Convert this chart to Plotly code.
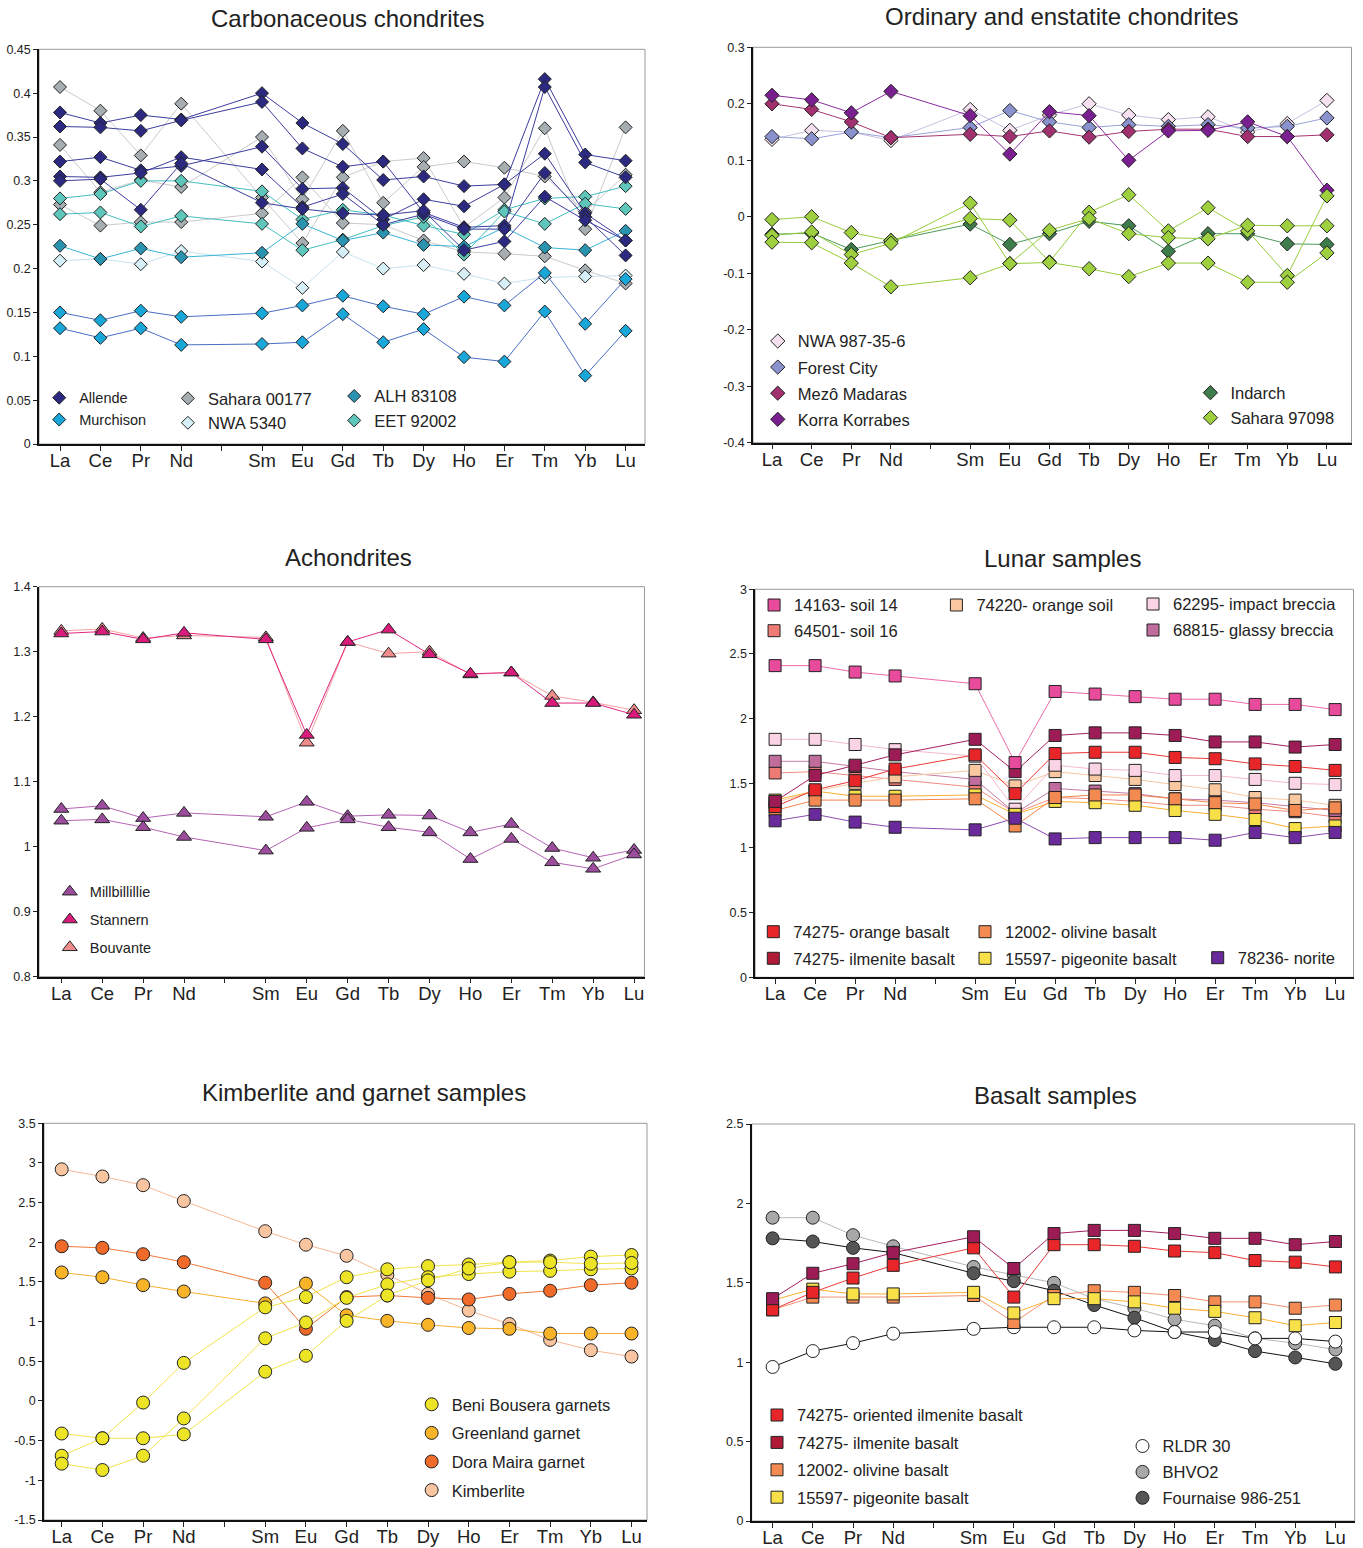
import plotly.graph_objects as go

W, H = 1363, 1548
FONT = "Liberation Sans, Arial, sans-serif"

# ---------------- shared axis data ----------------
TICK_LABELS = ["La", "Ce", "Pr", "Nd", "", "Sm", "Eu", "Gd", "Tb", "Dy", "Ho", "Er", "Tm", "Yb", "Lu"]
ELEMENTS = ["La", "Ce", "Pr", "Nd", "Sm", "Eu", "Gd", "Tb", "Dy", "Ho", "Er", "Tm", "Yb", "Lu"]

# ---------------- Carbonaceous chondrites ----------------
ALLENDE_1 = [0.378, 0.366, 0.375, 0.370, 0.400, 0.366, 0.342, 0.301, 0.305, 0.294, 0.296, 0.416, 0.330, 0.323]
ALLENDE_2 = [0.362, 0.361, 0.357, 0.369, 0.390, 0.337, 0.316, 0.322, 0.264, 0.247, 0.249, 0.407, 0.321, 0.304]
ALLENDE_3 = [0.322, 0.327, 0.312, 0.317, 0.339, 0.291, 0.292, 0.256, 0.279, 0.271, 0.296, 0.331, 0.263, 0.232]
ALLENDE_4 = [0.305, 0.304, 0.309, 0.327, 0.313, 0.270, 0.285, 0.250, 0.262, 0.245, 0.245, 0.309, 0.259, 0.215]
ALLENDE_5 = [0.300, 0.302, 0.267, 0.320, 0.275, 0.268, 0.263, 0.261, 0.266, 0.221, 0.231, 0.282, 0.255, 0.232]
MURCHISON_1 = [0.150, 0.141, 0.152, 0.145, 0.149, 0.158, 0.169, 0.157, 0.148, 0.168, 0.158, 0.195, 0.137, 0.188]
MURCHISON_2 = [0.132, 0.121, 0.132, 0.113, 0.114, 0.116, 0.148, 0.116, 0.131, 0.099, 0.094, 0.151, 0.078, 0.129]
SAHARA00177_1 = [0.407, 0.380, 0.329, 0.388, 0.281, 0.229, 0.304, 0.322, 0.326, 0.247, 0.281, 0.360, 0.245, 0.361]
SAHARA00177_2 = [0.341, 0.287, 0.301, 0.293, 0.350, 0.279, 0.357, 0.275, 0.316, 0.322, 0.315, 0.305, 0.265, 0.307]
SAHARA00177_3 = [0.273, 0.249, 0.253, 0.253, 0.263, 0.304, 0.252, 0.250, 0.232, 0.219, 0.217, 0.214, 0.198, 0.183]
NWA5340 = [0.209, 0.211, 0.205, 0.220, 0.208, 0.178, 0.219, 0.200, 0.204, 0.194, 0.183, 0.190, 0.191, 0.192]
ALH83108 = [0.226, 0.211, 0.223, 0.213, 0.218, 0.251, 0.232, 0.241, 0.227, 0.225, 0.247, 0.224, 0.221, 0.243]
EET92002_1 = [0.280, 0.285, 0.300, 0.300, 0.288, 0.256, 0.267, 0.261, 0.249, 0.239, 0.267, 0.280, 0.282, 0.294]
EET92002_2 = [0.262, 0.264, 0.248, 0.260, 0.251, 0.221, 0.233, 0.249, 0.259, 0.216, 0.265, 0.251, 0.274, 0.268]

# ---------------- Ordinary and enstatite chondrites ----------------
NWA987 = [0.137, 0.153, 0.150, 0.135, 0.190, 0.153, 0.180, 0.200, 0.180, 0.172, 0.177, 0.150, 0.165, 0.206]
FOREST_CITY = [0.142, 0.138, 0.150, 0.140, 0.158, 0.188, 0.168, 0.158, 0.163, 0.160, 0.163, 0.157, 0.160, 0.175]
MEZO_MADARAS = [0.200, 0.190, 0.168, 0.140, 0.146, 0.142, 0.152, 0.141, 0.151, 0.155, 0.155, 0.142, 0.142, 0.145]
KORRA_KORRABES = [0.215, 0.207, 0.184, 0.222, 0.179, 0.111, 0.186, 0.179, 0.100, 0.152, 0.153, 0.168, 0.142, 0.047]
INDARCH = [-0.031, -0.029, -0.058, -0.042, -0.013, -0.049, -0.030, -0.008, -0.016, -0.061, -0.030, -0.030, -0.048, -0.049]
SAHARA97098_1 = [-0.005, 0.000, -0.028, -0.042, -0.003, -0.006, -0.080, 0.008, 0.039, -0.025, 0.016, -0.025, -0.104, 0.037]
SAHARA97098_2 = [-0.033, -0.027, -0.067, -0.047, 0.024, -0.083, -0.024, -0.003, -0.030, -0.037, -0.039, -0.015, -0.016, -0.016]
SAHARA97098_3 = [-0.045, -0.046, -0.082, -0.124, -0.108, -0.083, -0.081, -0.092, -0.106, -0.082, -0.082, -0.116, -0.116, -0.064]

# ---------------- Achondrites ----------------
MILLBILLILLIE_1 = [1.058, 1.063, 1.044, 1.052, 1.046, 1.069, 1.047, 1.049, 1.048, 1.022, 1.035, 0.998, 0.983, 0.995]
MILLBILLILLIE_2 = [1.040, 1.042, 1.030, 1.015, 0.994, 1.029, 1.042, 1.030, 1.022, 0.981, 1.012, 0.976, 0.966, 0.988]
STANNERN = [1.328, 1.331, 1.319, 1.329, 1.319, 1.172, 1.315, 1.334, 1.296, 1.266, 1.268, 1.221, 1.221, 1.203]
BOUVANTE = [1.332, 1.335, 1.321, 1.325, 1.322, 1.160, 1.315, 1.297, 1.300, 1.265, 1.268, 1.232, 1.222, 1.210]

# ---------------- Lunar samples ----------------
SOIL_14 = [2.41, 2.41, 2.36, 2.33, 2.27, 1.66, 2.21, 2.19, 2.17, 2.15, 2.15, 2.11, 2.11, 2.07]
SOIL_16 = [1.58, 1.59, 1.56, 1.53, 1.47, 1.27, 1.39, 1.38, 1.36, 1.33, 1.33, 1.30, 1.28, 1.24]
ORANGE_SOIL = [1.35, 1.44, 1.50, 1.55, 1.60, 1.48, 1.59, 1.56, 1.53, 1.49, 1.45, 1.39, 1.37, 1.33]
IMPACT_BRECCIA = [1.84, 1.84, 1.80, 1.76, 1.71, 1.30, 1.64, 1.61, 1.60, 1.56, 1.56, 1.53, 1.50, 1.49]
GLASSY_BRECCIA = [1.67, 1.67, 1.63, 1.59, 1.53, 1.27, 1.46, 1.44, 1.42, 1.38, 1.37, 1.35, 1.32, 1.29]
ORANGE_BASALT = [1.32, 1.45, 1.52, 1.61, 1.72, 1.42, 1.73, 1.74, 1.74, 1.70, 1.69, 1.65, 1.63, 1.60]
ILMENITE_BASALT = [1.36, 1.56, 1.64, 1.72, 1.84, 1.59, 1.87, 1.89, 1.89, 1.87, 1.82, 1.82, 1.78, 1.80]
OLIVINE_BASALT = [1.29, 1.37, 1.37, 1.37, 1.38, 1.17, 1.39, 1.41, 1.41, 1.38, 1.35, 1.34, 1.29, 1.31]
PIGEONITE_BASALT = [1.37, 1.44, 1.40, 1.40, 1.41, 1.26, 1.36, 1.35, 1.33, 1.29, 1.26, 1.22, 1.15, 1.17]
NORITE = [1.21, 1.26, 1.20, 1.16, 1.14, 1.23, 1.07, 1.08, 1.08, 1.08, 1.06, 1.12, 1.08, 1.12]

# ---------------- Kimberlite and garnet samples ----------------
BENI_BOUSERA_1 = [-0.69, -0.47, -0.02, 0.48, 1.18, 1.31, 1.56, 1.66, 1.70, 1.72, 1.75, 1.77, 1.82, 1.84]
BENI_BOUSERA_2 = [-0.79, -0.87, -0.69, -0.22, 0.79, 0.99, 1.30, 1.47, 1.56, 1.60, 1.63, 1.64, 1.66, 1.67]
BENI_BOUSERA_3 = [-0.41, -0.47, -0.47, -0.42, 0.37, 0.57, 1.01, 1.33, 1.52, 1.67, 1.75, 1.75, 1.73, 1.74]
GREENLAND = [1.62, 1.56, 1.46, 1.38, 1.23, 1.48, 1.08, 1.01, 0.96, 0.92, 0.91, 0.85, 0.85, 0.85]
DORA_MAIRA = [1.95, 1.93, 1.85, 1.75, 1.49, 0.91, 1.31, 1.33, 1.30, 1.28, 1.35, 1.39, 1.46, 1.49]
KIMBERLITE = [2.92, 2.83, 2.72, 2.52, 2.14, 1.97, 1.83, 1.59, 1.35, 1.14, 0.97, 0.77, 0.64, 0.56]

# ---------------- Basalt samples ----------------
ORIENTED_ILMENITE_B = [1.33, 1.44, 1.53, 1.61, 1.72, 1.41, 1.74, 1.74, 1.73, 1.70, 1.69, 1.64, 1.63, 1.60]
ILMENITE_B = [1.40, 1.56, 1.62, 1.69, 1.79, 1.59, 1.81, 1.83, 1.83, 1.81, 1.78, 1.78, 1.74, 1.76]
OLIVINE_B = [1.33, 1.41, 1.41, 1.41, 1.42, 1.25, 1.42, 1.45, 1.44, 1.42, 1.38, 1.38, 1.34, 1.36]
PIGEONITE_B = [1.39, 1.46, 1.43, 1.43, 1.44, 1.31, 1.40, 1.40, 1.38, 1.34, 1.32, 1.28, 1.23, 1.25]
RLDR30 = [0.97, 1.07, 1.12, 1.18, 1.21, 1.22, 1.22, 1.22, 1.20, 1.19, 1.19, 1.15, 1.15, 1.13]
BHVO2 = [1.91, 1.91, 1.80, 1.73, 1.60, 1.55, 1.50, 1.40, 1.34, 1.27, 1.23, 1.15, 1.12, 1.08]
FOURNAISE = [1.78, 1.76, 1.72, 1.69, 1.56, 1.51, 1.45, 1.36, 1.28, 1.19, 1.14, 1.07, 1.03, 0.99]

# ---------------- y tick labels ----------------
Y1_TICKS = [0, 0.05, 0.1, 0.15, 0.2, 0.25, 0.3, 0.35, 0.4, 0.45]
Y1_TEXT = ["0", "0.05", "0.1", "0.15", "0.2", "0.25", "0.3", "0.35", "0.4", "0.45"]
Y2_TICKS = [-0.4, -0.3, -0.2, -0.1, 0, 0.1, 0.2, 0.3]
Y2_TEXT = ["-0.4", "-0.3", "-0.2", "-0.1", "0", "0.1", "0.2", "0.3"]
Y3_TICKS = [0.8, 0.9, 1.0, 1.1, 1.2, 1.3, 1.4]
Y3_TEXT = ["0.8", "0.9", "1", "1.1", "1.2", "1.3", "1.4"]
Y4_TICKS = [0, 0.5, 1, 1.5, 2, 2.5, 3]
Y4_TEXT = ["0", "0.5", "1", "1.5", "2", "2.5", "3"]
Y5_TICKS = [-1.5, -1, -0.5, 0, 0.5, 1, 1.5, 2, 2.5, 3, 3.5]
Y5_TEXT = ["-1.5", "-1", "-0.5", "0", "0.5", "1", "1.5", "2", "2.5", "3", "3.5"]
Y6_TICKS = [0, 0.5, 1, 1.5, 2, 2.5]
Y6_TEXT = ["0", "0.5", "1", "1.5", "2", "2.5"]

X_POS = [TICK_LABELS.index(e) for e in ELEMENTS]

fig = go.Figure()


def add_series(values, panel, mcolor, lcolor, symbol, size):
    ax = "" if panel == 1 else str(panel)
    fig.add_trace(go.Scatter(
        x=X_POS, y=values, mode="lines+markers", xaxis="x" + ax, yaxis="y" + ax,
        line=dict(color=lcolor, width=1),
        marker=dict(color=mcolor, symbol=symbol, size=size, line=dict(color="#222222", width=1)),
        showlegend=False, hoverinfo="skip"))


def add_entry(name, panel, legend, mcolor, symbol, size):
    ax = "" if panel == 1 else str(panel)
    fig.add_trace(go.Scatter(
        x=[None], y=[None], mode="markers", xaxis="x" + ax, yaxis="y" + ax, name=name,
        legend=legend, legendgroup=name,
        marker=dict(color=mcolor, symbol=symbol, size=size, line=dict(color="#222222", width=1)),
        showlegend=True))


# Panel 1
C_ALL, L_ALL = "#2b2a80", "#3c3c9e"
C_MUR, L_MUR = "#19a6d8", "#4a6ec2"
C_SAH, L_SAH = "#a7aeb2", "#cacaca"
C_NWA, L_NWA = "#d6eff7", "#c6e4ef"
C_ALH, L_ALH = "#2a93b0", "#38b4d6"
C_EET, L_EET = "#5ec6ba", "#44bebe"
for v in [SAHARA00177_1, SAHARA00177_2, SAHARA00177_3]:
    add_series(v, 1, C_SAH, L_SAH, "diamond", 10)
add_series(NWA5340, 1, C_NWA, L_NWA, "diamond", 10)
for v in [EET92002_1, EET92002_2]:
    add_series(v, 1, C_EET, L_EET, "diamond", 10)
add_series(ALH83108, 1, C_ALH, L_ALH, "diamond", 10)
for v in [MURCHISON_1, MURCHISON_2]:
    add_series(v, 1, C_MUR, L_MUR, "diamond", 10)
for v in [ALLENDE_1, ALLENDE_2, ALLENDE_3, ALLENDE_4, ALLENDE_5]:
    add_series(v, 1, C_ALL, L_ALL, "diamond", 10)
add_entry("Allende", 1, "legend", C_ALL, "diamond", 10)
add_entry("Murchison", 1, "legend", C_MUR, "diamond", 10)
add_entry("Sahara 00177", 1, "legend2", C_SAH, "diamond", 10)
add_entry("NWA 5340", 1, "legend2", C_NWA, "diamond", 10)
add_entry("ALH 83108", 1, "legend3", C_ALH, "diamond", 10)
add_entry("EET 92002", 1, "legend3", C_EET, "diamond", 10)

# Panel 2
C_N98, L_N98 = "#f4e0ee", "#c8bfe0"
C_FC, L_FC = "#8a92ce", "#9aa2da"
C_MM, L_MM = "#a0306e", "#a63472"
C_KK, L_KK = "#7a1f8f", "#8a2a9e"
C_IND, L_IND = "#3e7c4c", "#4c9a5a"
C_S97, L_S97 = "#9dcf3f", "#96cc3a"
add_series(NWA987, 2, C_N98, L_N98, "diamond", 11)
add_series(FOREST_CITY, 2, C_FC, L_FC, "diamond", 11)
add_series(MEZO_MADARAS, 2, C_MM, L_MM, "diamond", 11)
add_series(KORRA_KORRABES, 2, C_KK, L_KK, "diamond", 11)
add_series(INDARCH, 2, C_IND, L_IND, "diamond", 11)
for v in [SAHARA97098_1, SAHARA97098_2, SAHARA97098_3]:
    add_series(v, 2, C_S97, L_S97, "diamond", 11)
add_entry("NWA 987-35-6", 2, "legend4", C_N98, "diamond", 11)
add_entry("Forest City", 2, "legend4", C_FC, "diamond", 11)
add_entry("Mezô Madaras", 2, "legend4", C_MM, "diamond", 11)
add_entry("Korra Korrabes", 2, "legend4", C_KK, "diamond", 11)
add_entry("Indarch", 2, "legend5", C_IND, "diamond", 11)
add_entry("Sahara 97098", 2, "legend5", C_S97, "diamond", 11)

# Panel 3
C_MIL, L_MIL = "#9c4c9c", "#b464b4"
C_STA, L_STA = "#d91c7c", "#e0287f"
C_BOU, L_BOU = "#f08c8c", "#f4a0a0"
for v in [MILLBILLILLIE_1, MILLBILLILLIE_2]:
    add_series(v, 3, C_MIL, L_MIL, "triangle-up", 13)
add_series(BOUVANTE, 3, C_BOU, L_BOU, "triangle-up", 13)
add_series(STANNERN, 3, C_STA, L_STA, "triangle-up", 13)
add_entry("Millbillillie", 3, "legend6", C_MIL, "triangle-up", 13)
add_entry("Stannern", 3, "legend6", C_STA, "triangle-up", 13)
add_entry("Bouvante", 3, "legend6", C_BOU, "triangle-up", 13)

# Panel 4
C_S14, L_S14 = "#e84a9c", "#ec6aa8"
C_S16, L_S16 = "#f07a74", "#f08a84"
C_OS, L_OS = "#f9c8a0", "#f8c8a0"
C_IB, L_IB = "#fad4e4", "#f4b8cc"
C_GB, L_GB = "#c06c9c", "#c47aa4"
C_OB, L_OB = "#e8262a", "#ec3a3a"
C_IL, L_IL = "#9e1c56", "#a42060"
C_OL, L_OL = "#f28a52", "#f4844a"
C_PG, L_PG = "#f8e048", "#f8b030"
C_NO, L_NO = "#6a2a9c", "#8a4ab0"
add_series(SOIL_16, 4, C_S16, L_S16, "square", 12)
add_series(GLASSY_BRECCIA, 4, C_GB, L_GB, "square", 12)
add_series(ORANGE_SOIL, 4, C_OS, L_OS, "square", 12)
add_series(IMPACT_BRECCIA, 4, C_IB, L_IB, "square", 12)
add_series(PIGEONITE_BASALT, 4, C_PG, L_PG, "square", 12)
add_series(OLIVINE_BASALT, 4, C_OL, L_OL, "square", 12)
add_series(ORANGE_BASALT, 4, C_OB, L_OB, "square", 12)
add_series(ILMENITE_BASALT, 4, C_IL, L_IL, "square", 12)
add_series(NORITE, 4, C_NO, L_NO, "square", 12)
add_series(SOIL_14, 4, C_S14, L_S14, "square", 12)
add_entry("14163- soil 14", 4, "legend7", C_S14, "square", 12)
add_entry("64501- soil 16", 4, "legend7", C_S16, "square", 12)
add_entry("74220- orange soil", 4, "legend8", C_OS, "square", 12)
add_entry("62295- impact breccia", 4, "legend9", C_IB, "square", 12)
add_entry("68815- glassy breccia", 4, "legend9", C_GB, "square", 12)
add_entry("74275- orange basalt", 4, "legend10", C_OB, "square", 12)
add_entry("74275- ilmenite basalt", 4, "legend10", "#b01a36", "square", 12)
add_entry("12002- olivine basalt", 4, "legend11", C_OL, "square", 12)
add_entry("15597- pigeonite basalt", 4, "legend11", C_PG, "square", 12)
add_entry("78236- norite", 4, "legend12", C_NO, "square", 12)

# Panel 5
C_BB, L_BB = "#ece424", "#f0e44a"
C_GR, L_GR = "#f8b428", "#f4b030"
C_DM, L_DM = "#f06a2a", "#f07838"
C_KI, L_KI = "#f9c4a0", "#f6b894"
add_series(KIMBERLITE, 5, C_KI, L_KI, "circle", 13)
add_series(GREENLAND, 5, C_GR, L_GR, "circle", 13)
add_series(DORA_MAIRA, 5, C_DM, L_DM, "circle", 13)
for v in [BENI_BOUSERA_1, BENI_BOUSERA_2, BENI_BOUSERA_3]:
    add_series(v, 5, C_BB, L_BB, "circle", 13)
add_entry("Beni Bousera garnets", 5, "legend13", C_BB, "circle", 13)
add_entry("Greenland garnet", 5, "legend13", C_GR, "circle", 13)
add_entry("Dora Maira garnet", 5, "legend13", C_DM, "circle", 13)
add_entry("Kimberlite", 5, "legend13", C_KI, "circle", 13)

# Panel 6
C_RL, L_RL = "#ffffff", "#111111"
C_BH, L_BH = "#a8a8a8", "#b8b8b8"
C_FO, L_FO = "#555555", "#111111"
add_series(BHVO2, 6, C_BH, L_BH, "circle", 13)
add_series(FOURNAISE, 6, C_FO, L_FO, "circle", 13)
add_series(RLDR30, 6, C_RL, L_RL, "circle", 13)
add_series(OLIVINE_B, 6, C_OL, "#f49070", "square", 12)
add_series(PIGEONITE_B, 6, C_PG, L_PG, "square", 12)
add_series(ORIENTED_ILMENITE_B, 6, C_OB, L_OB, "square", 12)
add_series(ILMENITE_B, 6, C_IL, L_IL, "square", 12)
add_entry("74275- oriented ilmenite basalt", 6, "legend14", C_OB, "square", 12)
add_entry("74275- ilmenite basalt", 6, "legend14", "#b01a36", "square", 12)
add_entry("12002- olivine basalt", 6, "legend14", C_OL, "square", 12)
add_entry("15597- pigeonite basalt", 6, "legend14", C_PG, "square", 12)
add_entry("RLDR 30", 6, "legend15", C_RL, "circle", 13)
add_entry("BHVO2", 6, "legend15", C_BH, "circle", 13)
add_entry("Fournaise 986-251", 6, "legend15", C_FO, "circle", 13)

# ---------------- layout ----------------
PANELS = [
    # (left px, right px, top px, bottom px, x range, y range, tickvals, ticktext)
    (39, 645, 49.3, 444, (-0.52, 14.48), (0, 0.45), Y1_TICKS, Y1_TEXT),
    (753, 1351.5, 47.3, 442.7, (-0.48, 14.62), (-0.4, 0.3), Y2_TICKS, Y2_TEXT),
    (39, 644.5, 586.7, 976.7, (-0.545, 14.255), (0.8, 1.4), Y3_TICKS, Y3_TEXT),
    (755.1, 1353.5, 589.3, 977.3, (-0.50, 14.46), (0, 3), Y4_TICKS, Y4_TEXT),
    (44, 647, 1123.3, 1520, (-0.435, 14.38), (-1.5, 3.5), Y5_TICKS, Y5_TEXT),
    (751.7, 1354.7, 1124, 1521, (-0.52, 14.48), (0, 2.5), Y6_TICKS, Y6_TEXT),
]

layout = dict(width=W, height=H, margin=dict(l=0, r=0, t=0, b=0, pad=0, autoexpand=False), autosize=False,
              paper_bgcolor="white", plot_bgcolor="white", font=dict(family=FONT, color="#222222"),
              showlegend=True, shapes=[], annotations=[])

for i, (l, r, t, b, xr, yr, tv, tt) in enumerate(PANELS, start=1):
    sfx = "" if i == 1 else str(i)
    layout["xaxis" + sfx] = dict(
        domain=[l / W, r / W], range=list(xr), anchor="y" + sfx, automargin=False,
        tickmode="array", tickvals=list(range(len(TICK_LABELS))), ticktext=TICK_LABELS,
        ticks="outside", ticklen=5, tickcolor="#222", tickwidth=1, ticklabelstandoff=-6,
        showline=True, linecolor="#111", linewidth=1.5, showgrid=False, zeroline=False,
        tickfont=dict(family=FONT, size=18.5, color="#222"), fixedrange=True)
    layout["yaxis" + sfx] = dict(
        domain=[1 - b / H, 1 - t / H], range=list(yr), anchor="x" + sfx, automargin=False,
        tickmode="array", tickvals=tv, ticktext=tt,
        ticks="outside", ticklen=4, tickcolor="#222", tickwidth=1,
        showline=True, linecolor="#111", linewidth=1.5, showgrid=False, zeroline=False,
        tickfont=dict(family=FONT, size=12.5, color="#222"), fixedrange=True)
    layout["shapes"].append(dict(type="rect", xref="paper", yref="paper",
                                 x0=l / W, x1=r / W, y0=1 - b / H, y1=1 - t / H,
                                 line=dict(color="#9a9a9a", width=1), layer="below"))

TITLES = [("Carbonaceous chondrites", 348, 18), ("Ordinary and enstatite chondrites", 1062, 17),
          ("Achondrites", 348, 557), ("Lunar samples", 1062, 558),
          ("Kimberlite and garnet samples", 364, 1092), ("Basalt samples", 1055, 1095)]
for text, cx, cy in TITLES:
    layout["annotations"].append(dict(text=text, x=cx / W, y=1 - cy / H, xref="paper", yref="paper",
                                      xanchor="center", yanchor="middle", showarrow=False,
                                      font=dict(family=FONT, size=24, color="#222")))


def legend_layout(sx, tx, cy, size, spacing):
    # sx: symbol centre, tx: text start (px); balance the fixed 20 px symbol-to-text offset
    h = max(size * 1.3, 16) + 3
    gap = max(spacing - h, 0)
    left = (sx + tx) / 2 - 30
    return dict(x=left / W, y=1 - (cy - 5 - h / 2) / H, xanchor="left", yanchor="top",
                bgcolor="rgba(0,0,0,0)", borderwidth=0, tracegroupgap=gap,
                font=dict(family=FONT, size=size, color="#222"),
                itemclick=False, itemdoubleclick=False, orientation="v")


LEGENDS = {
    "legend": (62.4, 76, 397.7, 14.5, 21.8),
    "legend2": (187.8, 208, 398.3, 16.5, 21.8),
    "legend3": (357.4, 371, 396, 16.5, 24),
    "legend4": (780.5, 795, 341, 16.5, 26.1),
    "legend5": (1211.8, 1229, 392.7, 16.5, 25),
    "legend6": (69.6, 90, 891.7, 14.5, 27.8),
    "legend7": (776.6, 791.5, 605, 16.5, 25.7),
    "legend8": (958.3, 974.5, 605, 16.5, 25.7),
    "legend9": (1156, 1170, 604, 16.5, 26),
    "legend10": (776.6, 790, 931.7, 16.5, 26.6),
    "legend11": (988, 1002, 931.7, 16.5, 26.6),
    "legend12": (1220.4, 1235, 957.7, 16.5, 26.6),
    "legend13": (429.3, 454, 1404.3, 16.5, 28.6),
    "legend14": (779, 795, 1415, 16.5, 27.4),
    "legend15": (1142, 1163, 1446, 16.5, 25.9),
}
for name, (sx, tx, cy, size, sp) in LEGENDS.items():
    layout[name] = legend_layout(sx, tx, cy, size, sp)

fig.update_layout(**layout)
fig.write_html("out.html", post_script="document.body.style.margin='0';",
               config={"displayModeBar": False})
